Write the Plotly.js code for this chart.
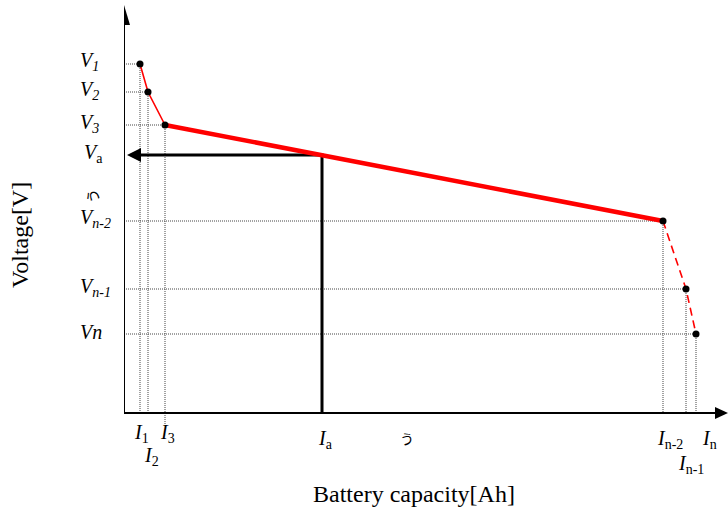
<!DOCTYPE html>
<html>
<head>
<meta charset="utf-8">
<script src="https://cdn.plot.ly/plotly-3.0.1.min.js"></script>
<style>html,body{margin:0;padding:0;background:#fff;}#chart{width:728px;height:510px;}</style>
</head>
<body>
<div id="chart"></div>
<script>
// Schematic discharge curve (arbitrary units)
const capacity = [16, 24, 41, 539, 562, 572];      // I1, I2, I3, In-2, In-1, In
const voltage  = [349, 321, 288, 192, 124, 79];    // V1, V2, V3, Vn-2, Vn-1, Vn
const capacityA = 198;                              // Ia
const voltageA  = 258;                              // Va
const xTickLabels = ["<i>I</i><sub>1</sub>", "<i>I</i><sub>2</sub>", "<i>I</i><sub>3</sub>",
                     "<i>I</i><sub>n-2</sub>", "<i>I</i><sub>n-1</sub>", "<i>I</i><sub>n</sub>"];
const yTickLabels = ["<i>V<sub>1</sub></i>", "<i>V<sub>2</sub></i>", "<i>V<sub>3</sub></i>",
                     "<i>V<sub>n-2</sub></i>", "<i>V<sub>n-1</sub></i>", "<i>Vn</i>"];
const xTickLabelA = "<i>I</i><sub>a</sub>";
const yTickLabelA = "<i>V</i><sub>a</sub>";
const xTitle = "Battery capacity[Ah]";
const yTitle = "Voltage[V]";

const FONT = "Liberation Serif, Times New Roman, serif";
const X_RANGE = [0, 604], Y_RANGE = [-12, 408];
const px = x => (x - X_RANGE[0]) / (X_RANGE[1] - X_RANGE[0]);
const py = y => (y - Y_RANGE[0]) / (Y_RANGE[1] - Y_RANGE[0]);
const traces = [];

// dotted guide lines
const guideX = [], guideY = [];
capacity.forEach((c, i) => {
  const v = voltage[i];
  guideX.push(0, c, null);
  guideY.push(v, v, null);
  guideX.push(c, c, null);
  guideY.push(v, i === 2 ? -12 : 0, null);
});
traces.push({x: guideX, y: guideY, mode: 'lines', line: {color: '#444', width: 1, dash: '1px,1px'}, hoverinfo: 'skip'});

// Ia / Va black lines
traces.push({x: [capacityA, capacityA, 16], y: [0, voltageA, voltageA], mode: 'lines',
  line: {color: '#000', width: 3}, hoverinfo: 'skip'});

// red curve segments
traces.push({x: capacity.slice(0, 3), y: voltage.slice(0, 3), mode: 'lines', line: {color: '#ff0000', width: 1.6}, hoverinfo: 'skip'});
traces.push({x: capacity.slice(2, 4), y: voltage.slice(2, 4), mode: 'lines', line: {color: '#ff0000', width: 4.5}, hoverinfo: 'skip'});
traces.push({x: capacity.slice(3, 6), y: voltage.slice(3, 6), mode: 'lines', line: {color: '#ff0000', width: 1.6, dash: '8px,5px'}, hoverinfo: 'skip'});
// points
traces.push({x: capacity, y: voltage, mode: 'markers', marker: {color: '#000', size: 7}, hoverinfo: 'skip'});

const shapes = [
  // axes
  {type: 'line', xref: 'x', yref: 'y', x0: 0, y0: 0, x1: 592, y1: 0, line: {color: '#000', width: 2}},
  {type: 'line', xref: 'x', yref: 'y', x0: 0, y0: 0, x1: 0, y1: 390, line: {color: '#000', width: 2}},
  {type: 'path', xref: 'x', yref: 'y', path: 'M 591 6 L 604 0 L 591 -6 Z', fillcolor: '#000', line: {width: 0}},
  {type: 'path', xref: 'x', yref: 'y', path: 'M -6 388 L 0 408 L 6 388 Z', fillcolor: '#000', line: {width: 0}},
  // Va arrowhead
  {type: 'path', xref: 'x', yref: 'y',
   path: `M 17 ${voltageA + 7} L 3 ${voltageA} L 17 ${voltageA - 7} Z`, fillcolor: '#000', line: {width: 0}}
];

const annotations = [];
function ann(x, y, text, opts) {
  annotations.push(Object.assign({x: px(x), y: py(y), xref: 'paper', yref: 'paper', text: text,
    showarrow: false, xanchor: 'center', yanchor: 'middle'}, opts));
}
const xShift = [1, 3, 2, 7, 5, 13];
const xLabY = [-21, -43, -21, -26, -51, -26];
capacity.forEach((c, i) => {
  ann(c, xLabY[i], xTickLabels[i], {xshift: xShift[i], font: {family: FONT, size: 20, color: '#000'}});
});
ann(capacityA, -26, xTickLabelA, {xshift: 3, font: {family: FONT, size: 20, color: '#000'}});
voltage.forEach((v, i) => {
  ann(-46, v, yTickLabels[i], {xanchor: 'left', yshift: 2, font: {family: FONT, size: 20, color: '#000'}});
});
ann(-42, voltageA, yTickLabelA, {xanchor: 'left', yshift: 1, font: {family: FONT, size: 20, color: '#000'}});
// stray glyphs
ann(283, -25, 'う', {font: {family: 'Noto Sans CJK JP', size: 14, color: '#000'}});
ann(-32, 217, 'う', {textangle: -90, font: {family: 'Noto Sans CJK JP', size: 14, color: '#000'}});
// axis titles
ann(290, -81, xTitle, {font: {family: FONT, size: 24, color: '#000'}});
ann(-104, 178, yTitle, {textangle: -90, font: {family: FONT, size: 24, color: '#000'}});

const layout = {
  width: 728, height: 510,
  margin: {l: 124, r: 0, t: 5, b: 85, pad: 0},
  paper_bgcolor: '#fff', plot_bgcolor: '#fff',
  showlegend: false,
  xaxis: {range: X_RANGE, showgrid: false, zeroline: false, showline: false, showticklabels: false, ticks: '', fixedrange: true},
  yaxis: {range: Y_RANGE, showgrid: false, zeroline: false, showline: false, showticklabels: false, ticks: '', fixedrange: true},
  shapes: shapes,
  annotations: annotations
};
traces.forEach(t => { t.type = 'scatter'; t.cliponaxis = false; });
Plotly.newPlot('chart', traces, layout, {staticPlot: true, displayModeBar: false});
</script>
</body>
</html>
